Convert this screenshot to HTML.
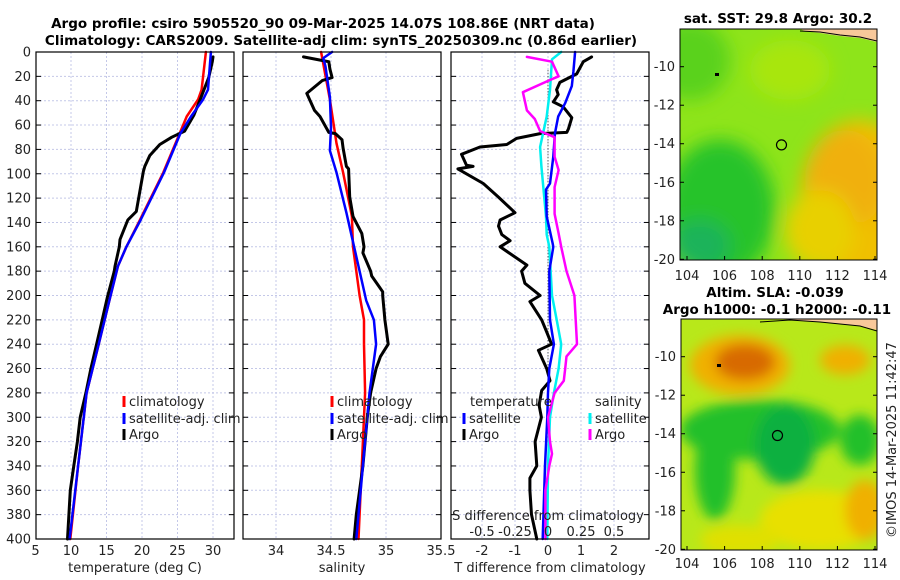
<!DOCTYPE html>
<html><head><meta charset="utf-8"><style>
html,body{margin:0;padding:0;background:#fff;}
svg{display:block;font-family:"DejaVu Sans","Liberation Sans",sans-serif;}
</style></head><body>
<svg id="fig" width="900" height="580" viewBox="0 0 900 580" xmlns="http://www.w3.org/2000/svg">
<defs>
<filter id="blur1" x="-50%" y="-50%" width="200%" height="200%"><feGaussianBlur stdDeviation="9"/></filter>
<filter id="blur2" x="-50%" y="-50%" width="200%" height="200%"><feGaussianBlur stdDeviation="6"/></filter>
<clipPath id="clipMap1"><rect x="680" y="29" width="197" height="231"/></clipPath>
<clipPath id="clipMap2"><rect x="681" y="319" width="196" height="231"/></clipPath>
</defs>
<g font-weight="bold" font-size="13.5" text-anchor="middle" fill="#000">
<text x="323" y="28">Argo profile: csiro 5905520_90 09-Mar-2025 14.07S 108.86E (NRT data)</text>
<text x="341" y="45">Climatology: CARS2009. Satellite-adj clim: synTS_20250309.nc (0.86d earlier)</text>
</g>
<!-- SST map -->
<g clip-path="url(#clipMap1)">
<rect x="680" y="29" width="197" height="231" fill="#8ee41a"/>
<g filter="url(#blur1)">
<ellipse cx="690" cy="60" rx="40" ry="40" fill="#5ad21a"/>
<ellipse cx="720" cy="210" rx="55" ry="70" fill="#28c32a"/>
<ellipse cx="700" cy="245" rx="30" ry="25" fill="#1fb35a"/>
<ellipse cx="860" cy="200" rx="60" ry="80" fill="#f0c000"/>
<ellipse cx="845" cy="180" rx="40" ry="50" fill="#f0b010"/>
<ellipse cx="820" cy="230" rx="35" ry="40" fill="#e8d000"/>
<ellipse cx="790" cy="70" rx="40" ry="30" fill="#a8e610"/>
</g>
<polygon points="800,29 877,29 877,42 860,38 840,36 820,33 805,31" fill="#f8c89a"/>
<polyline points="800,31 820,32 840,35 860,37 877,41" fill="none" stroke="#000" stroke-width="1"/>
<circle cx="781.5" cy="144.9" r="5" fill="none" stroke="#000" stroke-width="1.2"/>
<rect x="715" y="73" width="4" height="3" fill="#000"/>
</g>
<rect x="680" y="29" width="197" height="231" fill="none" stroke="#000"/>
<!-- SLA map -->
<g clip-path="url(#clipMap2)">
<rect x="681" y="319" width="196" height="231" fill="#b8e81a"/>
<g filter="url(#blur2)">
<ellipse cx="740" cy="365" rx="50" ry="30" fill="#f0b000"/>
<ellipse cx="745" cy="362" rx="30" ry="18" fill="#d86a00"/>
<ellipse cx="845" cy="360" rx="25" ry="15" fill="#f0b000"/>
<ellipse cx="760" cy="430" rx="80" ry="30" fill="#22c02a"/>
<ellipse cx="785" cy="445" rx="30" ry="40" fill="#10b040"/>
<ellipse cx="715" cy="470" rx="20" ry="50" fill="#22c02a"/>
<ellipse cx="860" cy="440" rx="20" ry="25" fill="#22c02a"/>
<ellipse cx="820" cy="520" rx="60" ry="30" fill="#e8e000"/>
<ellipse cx="865" cy="510" rx="20" ry="30" fill="#f0b000"/>
<ellipse cx="740" cy="540" rx="40" ry="15" fill="#e0e000"/>
</g>
<polygon points="780,319 877,319 877,330 860,326 840,324 820,322" fill="#f8c89a"/>
<polyline points="760,322 790,320 820,322 840,324 860,326 877,331" fill="none" stroke="#000" stroke-width="1"/>
<circle cx="777.5" cy="435.5" r="5" fill="none" stroke="#000" stroke-width="1.2"/>
<rect x="717" y="364" width="4" height="3" fill="#000"/>
</g>
<rect x="681" y="319" width="196" height="231" fill="none" stroke="#000"/>
<g font-weight="bold" font-size="13.5" text-anchor="middle">
<text x="778" y="23">sat. SST: 29.8 Argo: 30.2</text>
<text x="775" y="297">Altim. SLA: -0.039</text>
<text x="777" y="314">Argo h1000: -0.1 h2000: -0.11</text>
</g>
<text transform="translate(896,440) rotate(-90)" text-anchor="middle" font-size="13" fill="#222">©IMOS 14-Mar-2025 11:42:47</text>
<g id="plots"></g>
</svg>
<script>
// ---------- data ----------
const depthTicks = [0,20,40,60,80,100,120,140,160,180,200,220,240,260,280,300,320,340,360,380,400];
const tempTicks = [5,10,15,20,25,30];
const salTicks = [34,34.5,35,35.5];
const tdiffTicks = [-2,-1,0,1,2];
const sdiffTicks = [-0.5,-0.25,0,0.25,0.5];
const sdiffTickLabels = ["-0.5","-0.25","0","0.25","0.5"];

const argoTDepth = [4,8,21,39,52,65,70,76,85,94,98,131,138,154,160,176,180,202,220,240,260,280,300,320,340,360,380,400];
const argoT = [30.0,29.9,29.4,28.2,27.3,26.0,24.2,22.5,21.1,20.4,20.2,19.2,18.0,16.9,16.8,16.2,16.1,15.1,14.4,13.6,12.8,12.1,11.3,10.9,10.4,9.9,9.7,9.5];
const climTDepth = [0,31,39,53,67,99,138,160,176,202,240,280,340,400];
const climT = [29.0,28.4,27.9,26.3,25.3,23.0,19.7,17.8,16.6,15.5,13.9,12.2,11.0,9.9];
const satT = [29.7,29.3,28.6,26.9,25.4,23.1,19.8,17.8,16.6,15.5,13.9,12.2,11.0,9.8];

const argoSDepth = [4,7,8,14,21,23.5,34,48,53,66,67,72,79,94,96,119,135,149,160,165,180,184,197,200,220,240,250,260,280,300,320,340,360,380,400];
const argoS = [34.25,34.42,34.48,34.49,34.51,34.42,34.28,34.35,34.40,34.48,34.54,34.60,34.61,34.64,34.66,34.67,34.70,34.78,34.80,34.79,34.86,34.87,34.97,34.97,34.99,35.02,34.95,34.91,34.86,34.83,34.81,34.79,34.76,34.73,34.71];
const climSDepth = [0,39,75,99,135,160,200,220,240,280,400];
const climS = [34.41,34.49,34.55,34.61,34.69,34.70,34.76,34.80,34.80,34.81,34.75];
const satSDepth = [0,5,12,37,62,81,99,132,160,204,220,240,260,280,320,400];
const satS = [34.51,34.43,34.45,34.49,34.50,34.49,34.55,34.64,34.71,34.82,34.89,34.91,34.88,34.85,34.81,34.73];

const argoTdDepth = [4,8,18,25,31,35,41,45,54,63,66,67,71,76,78,84,93,94,96,108,119,132,138,143,150,155,160,175,180,190,200,205,220,230,240,245,260,270,278,290,300,320,340,350,360,380,400];
const argoTd = [1.32,1.07,0.87,0.36,0.26,0.31,0.16,0.46,0.72,0.62,0.57,-0.24,-0.95,-1.25,-2.06,-2.62,-2.47,-2.27,-2.73,-1.96,-1.51,-1.0,-1.45,-1.5,-1.40,-1.15,-1.45,-0.64,-0.8,-0.7,-0.24,-0.55,-0.19,-0.04,0.11,-0.29,-0.04,0.06,-0.19,-0.27,-0.2,-0.39,-0.34,-0.55,-0.55,-0.5,-0.34];
const satTdDepth = [0,16,28,42,53,67,86,108,113,135,157,160,180,220,240,260,280,300,340,400];
const satTd = [0.82,0.77,0.72,0.52,0.31,0.21,0.16,0.06,-0.06,-0.04,0.14,0.16,0.04,0.06,0.18,0.04,0.0,-0.02,-0.09,-0.16];
const satSdDepth = [0,6,31,53,78,94,135,150,160,200,220,240,260,280,300,340,400];
const satSd = [0.10,0.03,0.015,-0.01,-0.06,-0.05,-0.015,-0.01,0.01,0.03,0.066,0.10,0.08,0.045,0.015,0,-0.005];
const argoSdDepth = [4,8,20,23,33,48,55,65,70,86,97,111,133,149,160,180,200,220,240,250,260,270,280,300,320,330,340,360,400];
const argoSd = [-0.16,0.03,0.08,0.015,-0.19,-0.16,-0.10,-0.06,0.05,0.05,0.08,0.05,0.05,0.08,0.10,0.14,0.20,0.21,0.22,0.14,0.13,0.12,0.05,0.0,0.015,0.03,0.01,-0.02,-0.02];

const mapLonTicks = [104,106,108,110,112,114];
const mapLatTicks = [-10,-12,-14,-16,-18,-20];

// ---------- drawing ----------
const NS = "http://www.w3.org/2000/svg";
const root = document.getElementById('plots');
function el(tag, attrs, parent){
  const e = document.createElementNS(NS, tag);
  for (const k in attrs) e.setAttribute(k, attrs[k]);
  (parent||root).appendChild(e);
  return e;
}
const Y0 = 52, Y1 = 539;
const yD = d => Y0 + (d/400)*(Y1-Y0);
function lin(d0,d1,r0,r1){ return v => r0 + (v-d0)/(d1-d0)*(r1-r0); }

const panels = [
  {name:'temperature', x0:36, x1:234, sx:lin(5,30,35.5,213), ticks:tempTicks, labels:tempTicks.map(String), grid:[10,15,20,25,30], title:'temperature (deg C)', ylabels:true},
  {name:'salinity', x0:243, x1:441, sx:lin(34,35,276,386), ticks:salTicks, labels:["34","34.5","35","35.5"], grid:[34,34.5,35], title:'salinity', ylabels:false},
  {name:'difference', x0:451, x1:649, sx:lin(0,2,548,614), ticks:tdiffTicks, labels:tdiffTicks.map(String), grid:[-2,-1,0,1,2], title:'T difference from climatology', ylabels:false}
];

panels.forEach(p=>{
  const g = el('g',{});
  
  
  depthTicks.forEach(d=>{
    const l = el('line',{x1:p.x0,x2:p.x1,y1:yD(d),y2:yD(d),stroke:'#c4c8e8','stroke-width':1,'stroke-dasharray':'2,2'},g);
    
    
    const t1 = el('line',{x1:p.x0,x2:p.x0+5,y1:yD(d),y2:yD(d),stroke:'#000'},g);
    
    
    const t2 = el('line',{x1:p.x1-5,x2:p.x1,y1:yD(d),y2:yD(d),stroke:'#000'},g);
    
    
    if (p.ylabels){
      const tl = el('text',{x:31,y:yD(d)+4.5,'text-anchor':'end','font-size':13,fill:'#222'},g);
      
      
      tl.textContent = d;
    }
  });
  p.grid.forEach(v=>{
    const l = el('line',{x1:p.sx(v),x2:p.sx(v),y1:Y0,y2:Y1,stroke:'#c4c8e8','stroke-width':1,'stroke-dasharray':'2,2'},g);
    
    
  });
  p.ticks.forEach((v,i)=>{
    const tl = el('text',{x:p.sx(v),y:555,'text-anchor':'middle','font-size':13,fill:'#222'},g);
    
    
    tl.textContent = p.labels[i];
  });
  const at = el('text',{x:(p.x0+p.x1)/2,y:572,'text-anchor':'middle','font-size':13,fill:'#222'},g);
  
  
  at.textContent = p.title;
  p.g = g;
});

function series(p, xs, ds, color, w, name, sx){
  const f = sx || p.sx;
  const pts = xs.map((v,i)=>f(v).toFixed(1)+','+yD(ds[i]).toFixed(1)).join(' ');
  const pl = el('polyline',{points:pts,fill:'none',stroke:color,'stroke-width':w,'stroke-linejoin':'round','stroke-linecap':'round'},p.g);
  
  
}
const [P1,P2,P3] = panels;
series(P1, climT, climTDepth, '#ff0000', 2.5, 'temperature-climatology-line');
series(P1, argoT, argoTDepth, '#000000', 3, 'temperature-argo-line');
series(P1, satT, climTDepth, '#0000ff', 2.5, 'temperature-satellite-line');

series(P2, climS, climSDepth, '#ff0000', 2.5, 'salinity-climatology-line');
series(P2, argoS, argoSDepth, '#000000', 3, 'salinity-argo-line');
series(P2, satS, satSDepth, '#0000ff', 2.5, 'salinity-satellite-line');

const sdx = lin(0,0.5,548,614);
const zl = el('line',{x1:P3.sx(0),x2:P3.sx(0),y1:yD(15),y2:yD(290),stroke:'#333','stroke-width':1,'stroke-dasharray':'1,2'},P3.g);


series(P3, argoTd, argoTdDepth, '#000000', 3, 'tdiff-argo-line');
series(P3, satSd, satSdDepth, '#00f0f0', 2.5, 'sdiff-satellite-line', sdx);
series(P3, satTd, satTdDepth, '#0000ff', 2.5, 'tdiff-satellite-line');
series(P3, argoSd, argoSdDepth, '#ff00ff', 2.5, 'sdiff-argo-line', sdx);

// S difference axis labels inside panel 3
const st = el('text',{x:548,y:520,'text-anchor':'middle','font-size':13,fill:'#222'},P3.g);


st.textContent = 'S difference from climatology';
sdiffTicks.forEach((v,i)=>{
  const t = el('text',{x:sdx(v),y:536,'text-anchor':'middle','font-size':13,fill:'#222'},P3.g);
  
  
  t.textContent = sdiffTickLabels[i];
});

// frames
panels.forEach(p=>{
  const r = el('rect',{x:p.x0,y:Y0,width:p.x1-p.x0,height:Y1-Y0,fill:'none',stroke:'#000','stroke-width':1.2},p.g);
  
  
});

// legends
function legend(g, x, y, color, label, name){
  const m = el('rect',{x:x-1.5,y:y-10,width:3,height:11,fill:color},g);
  
  
  const t = el('text',{x:x+5,y:y,'font-size':13,fill:'#222'},g);
  
  
  t.textContent = label;
}
legend(P1.g, 124, 406, '#ff0000', 'climatology', 'legend-climatology');
legend(P1.g, 124, 423, '#0000ff', 'satellite-adj. clim', 'legend-satellite');
legend(P1.g, 124, 439, '#000000', 'Argo', 'legend-argo');
legend(P2.g, 332, 406, '#ff0000', 'climatology', 'legend-climatology');
legend(P2.g, 332, 423, '#0000ff', 'satellite-adj. clim', 'legend-satellite');
legend(P2.g, 332, 439, '#000000', 'Argo', 'legend-argo');
const lt1 = el('text',{x:470,y:406,'font-size':13,fill:'#222'},P3.g);


lt1.textContent='temperature';
const lt2 = el('text',{x:595,y:406,'font-size':13,fill:'#222'},P3.g);


lt2.textContent='salinity';
legend(P3.g, 464, 423, '#0000ff', 'satellite', 'legend-t-satellite');
legend(P3.g, 464, 439, '#000000', 'Argo', 'legend-t-argo');
legend(P3.g, 590, 423, '#00f0f0', 'satellite', 'legend-s-satellite');
legend(P3.g, 590, 439, '#ff00ff', 'Argo', 'legend-s-argo');

// map axes
const maps = [
  {name:'sst-map', x0:680, x1:877, y0:29, y1:260, lon:lin(104,114,687,875), lat:lin(-10,-20,66.7,259.3), labY:280},
  {name:'sla-map', x0:681, x1:877, y0:319, y1:550, lon:lin(104,114,687,875), lat:lin(-10,-20,356.7,549.3), labY:568}
];
maps.forEach(m=>{
  const g = el('g',{});
  
  
  mapLonTicks.forEach(v=>{
    const x = m.lon(v);
    const t = el('line',{x1:x,x2:x,y1:m.y1,y2:m.y1-4,stroke:'#000'},g);
    
    
    const l = el('text',{x:x,y:m.labY,'text-anchor':'middle','font-size':13,fill:'#222'},g);
    
    
    l.textContent = v;
  });
  mapLatTicks.forEach(v=>{
    const y = m.lat(v);
    const t = el('line',{x1:m.x0,x2:m.x0+4,y1:y,y2:y,stroke:'#000'},g);
    
    
    const t2 = el('line',{x1:m.x1-4,x2:m.x1,y1:y,y2:y,stroke:'#000'},g);
    
    
    const l = el('text',{x:m.x0-5,y:y+4.5,'text-anchor':'end','font-size':13,fill:'#222'},g);
    
    
    l.textContent = v;
  });
});
</script>
</body></html>
